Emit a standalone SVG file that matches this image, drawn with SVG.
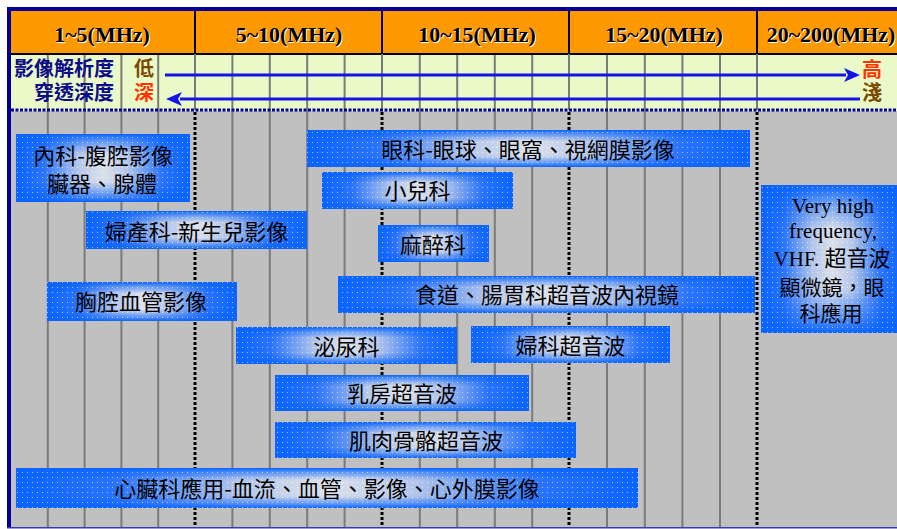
<svg xmlns="http://www.w3.org/2000/svg" width="897" height="529" viewBox="0 0 897 529">
<defs>
<style>
.hdr{font-family:"Liberation Serif","Times New Roman",serif;font-weight:bold;font-size:22px;text-anchor:middle;fill:#000}
.hdrs{font-family:"Liberation Serif","Times New Roman",serif;font-weight:bold;font-size:22px;text-anchor:middle;fill:#fff}
.lbl{font-family:"Noto Sans CJK TC","Noto Sans CJK SC",sans-serif;font-weight:bold;font-size:20px}
.bx{font-family:"Noto Sans CJK TC","Noto Sans CJK SC",sans-serif;font-size:22px;fill:#000;text-anchor:middle}
.vhf{font-family:"Liberation Serif","Noto Sans CJK TC",serif;font-size:21px;fill:#000;text-anchor:middle}
.minor{stroke:#7a7a7a;stroke-width:2}
.majorh{stroke:#000;stroke-width:2}
.majorg{stroke:#7a7a7a;stroke-width:2}
.major{stroke:#000;stroke-width:3;stroke-dasharray:3 2}
.bh{fill:url(#gh)}
.bv{fill:url(#gv)}
.bd{fill:url(#dots)}
.arrow{stroke:#1414E8;stroke-width:3;fill:none;marker-end:url(#ah)}
</style>
<linearGradient id="gh" x1="0" y1="0" x2="1" y2="0">
<stop offset="0" stop-color="#0A64FF"/>
<stop offset="0.16" stop-color="#2A74FA"/>
<stop offset="0.36" stop-color="#B4C6EA"/>
<stop offset="0.5" stop-color="#DCE1E9"/>
<stop offset="0.64" stop-color="#B4C6EA"/>
<stop offset="0.84" stop-color="#2A74FA"/>
<stop offset="1" stop-color="#0A64FF"/>
</linearGradient>
<linearGradient id="gv" x1="0" y1="0" x2="0" y2="1">
<stop offset="0" stop-color="#0A64FF" stop-opacity="1"/>
<stop offset="0.1" stop-color="#0A64FF" stop-opacity="0.6"/>
<stop offset="0.3" stop-color="#0A64FF" stop-opacity="0"/>
<stop offset="0.7" stop-color="#0A64FF" stop-opacity="0"/>
<stop offset="0.9" stop-color="#0A64FF" stop-opacity="0.6"/>
<stop offset="1" stop-color="#0A64FF" stop-opacity="1"/>
</linearGradient>
<pattern id="dots" width="5" height="5" patternUnits="userSpaceOnUse">
<rect x="2" y="2" width="1" height="1" fill="#fff" opacity="0.6"/>
</pattern>
<marker id="ah" viewBox="0 0 16 14" markerWidth="16" markerHeight="14" markerUnits="userSpaceOnUse" refX="2" refY="7" orient="auto">
<path d="M0,0 L16,7 L0,14 L4,7 Z" fill="#1414E8"/>
</marker>
</defs>

<!-- background -->
<rect x="0" y="0" width="897" height="529" fill="#fff"/>
<rect x="11" y="11" width="886" height="43" fill="#FF9900"/>
<rect x="11" y="54" width="886" height="56" fill="#EAF9C8"/>
<rect x="11" y="111" width="886" height="416" fill="#C0C0C0"/>

<!-- grid -->
<g id="grid">
<g class="minor">
<line x1="47.8" y1="54" x2="47.8" y2="527"/>
<line x1="84.6" y1="54" x2="84.6" y2="527"/>
<line x1="121.4" y1="54" x2="121.4" y2="527"/>
<line x1="158.2" y1="54" x2="158.2" y2="527"/>
<line x1="232.4" y1="54" x2="232.4" y2="527"/>
<line x1="269.8" y1="54" x2="269.8" y2="527"/>
<line x1="307.2" y1="54" x2="307.2" y2="527"/>
<line x1="344.6" y1="54" x2="344.6" y2="527"/>
<line x1="419.8" y1="54" x2="419.8" y2="527"/>
<line x1="457.2" y1="54" x2="457.2" y2="527"/>
<line x1="494.8" y1="54" x2="494.8" y2="527"/>
<line x1="532.2" y1="54" x2="532.2" y2="527"/>
<line x1="607" y1="54" x2="607" y2="527"/>
<line x1="644.8" y1="54" x2="644.8" y2="527"/>
<line x1="682.4" y1="54" x2="682.4" y2="527"/>
<line x1="720" y1="54" x2="720" y2="527"/>
</g>
<g class="majorh">
<line x1="195" y1="11" x2="195" y2="54"/>
<line x1="382" y1="11" x2="382" y2="54"/>
<line x1="569" y1="11" x2="569" y2="54"/>
<line x1="757" y1="11" x2="757" y2="54"/>
<line x1="11" y1="54" x2="897" y2="54"/>
</g>
<g class="majorg">
<line x1="195" y1="54" x2="195" y2="110"/>
<line x1="382" y1="54" x2="382" y2="110"/>
<line x1="569" y1="54" x2="569" y2="110"/>
<line x1="757" y1="54" x2="757" y2="110"/>
</g>
<g class="major">
<line x1="195" y1="112" x2="195" y2="527"/>
<line x1="382" y1="112" x2="382" y2="527"/>
<line x1="569" y1="112" x2="569" y2="527"/>
<line x1="757" y1="112" x2="757" y2="527"/>
</g>
<line x1="11" y1="110" x2="897" y2="110" stroke="#000099" stroke-width="3" stroke-dasharray="3 1.5"/>
</g>

<!-- borders -->
<rect x="7" y="7" width="890" height="4" fill="#000099"/>
<rect x="7" y="7" width="4" height="521" fill="#000099"/>
<rect x="7" y="527" width="890" height="1.5" fill="#3a3aa8"/>

<!-- header -->
<g id="header">
<text class="hdrs" x="103" y="43">1~5(MHz)</text>
<text class="hdr" x="102" y="42">1~5(MHz)</text>
<text class="hdrs" x="290" y="43">5~10(MHz)</text>
<text class="hdr" x="289" y="42">5~10(MHz)</text>
<text class="hdrs" x="478" y="43">10~15(MHz)</text>
<text class="hdr" x="477" y="42">10~15(MHz)</text>
<text class="hdrs" x="665" y="43">15~20(MHz)</text>
<text class="hdr" x="664" y="42">15~20(MHz)</text>
<text class="hdrs" x="832" y="43">20~200(MHz)</text>
<text class="hdr" x="831" y="42">20~200(MHz)</text>
</g>

<!-- scale labels -->
<g id="scale-labels">
<text class="lbl" x="114" y="76" text-anchor="end" fill="#0C0C8A">影像解析度</text>
<text class="lbl" x="114" y="100" text-anchor="end" fill="#0C0C8A">穿透深度</text>
<text class="lbl" x="134" y="76" fill="#7A4A00">低</text>
<text class="lbl" x="134" y="100" fill="#FF3300">深</text>
<text class="lbl" x="862" y="77" fill="#FF3300">高</text>
<text class="lbl" x="862" y="100" fill="#7A4A00">淺</text>
</g>

<!-- connectors -->
<g id="connectors">
<line class="arrow" x1="165" y1="75" x2="846" y2="75"/>
<line class="arrow" x1="860" y1="99" x2="180" y2="99"/>
</g>

<!-- nodes -->
<g id="n-naike">
<rect class="bh" x="16" y="134" width="174" height="68"/><rect class="bv" x="16" y="134" width="174" height="68"/><rect class="bd" x="16" y="134" width="174" height="68"/>
<text class="bx" x="103" y="163.5">內科-腹腔影像</text>
<text class="bx" x="102" y="192">臟器、腺體</text>
</g>
<g id="n-fuchan">
<rect class="bh" x="86" y="211" width="221" height="38"/><rect class="bv" x="86" y="211" width="221" height="38"/><rect class="bd" x="86" y="211" width="221" height="38"/>
<text class="bx" x="196.5" y="240">婦產科-新生兒影像</text>
</g>
<g id="n-xiongqiang">
<rect class="bh" x="47" y="282" width="190" height="39"/><rect class="bv" x="47" y="282" width="190" height="39"/><rect class="bd" x="47" y="282" width="190" height="39"/>
<text class="bx" x="141" y="310">胸腔血管影像</text>
</g>
<g id="n-yanke">
<rect class="bh" x="307" y="130" width="443" height="37"/><rect class="bv" x="307" y="130" width="443" height="37"/><rect class="bd" x="307" y="130" width="443" height="37"/>
<text class="bx" x="528" y="158">眼科-眼球、眼窩、視網膜影像</text>
</g>
<g id="n-xiaoer">
<rect class="bh" x="322" y="172" width="191" height="37"/><rect class="bv" x="322" y="172" width="191" height="37"/><rect class="bd" x="322" y="172" width="191" height="37"/>
<text class="bx" x="417.5" y="198.5">小兒科</text>
</g>
<g id="n-mazui">
<rect class="bh" x="378" y="225" width="111" height="37"/><rect class="bv" x="378" y="225" width="111" height="37"/><rect class="bd" x="378" y="225" width="111" height="37"/>
<text class="bx" x="433" y="253">麻醉科</text>
</g>
<g id="n-shidao">
<rect class="bh" x="338" y="276" width="417" height="37"/><rect class="bv" x="338" y="276" width="417" height="37"/><rect class="bd" x="338" y="276" width="417" height="37"/>
<text class="bx" x="547" y="303">食道、腸胃科超音波內視鏡</text>
</g>
<g id="n-miniao">
<rect class="bh" x="236" y="327" width="221" height="37"/><rect class="bv" x="236" y="327" width="221" height="37"/><rect class="bd" x="236" y="327" width="221" height="37"/>
<text class="bx" x="346.5" y="354.5">泌尿科</text>
</g>
<g id="n-fuke">
<rect class="bh" x="471" y="326" width="199" height="37"/><rect class="bv" x="471" y="326" width="199" height="37"/><rect class="bd" x="471" y="326" width="199" height="37"/>
<text class="bx" x="570.5" y="353.5">婦科超音波</text>
</g>
<g id="n-rufang">
<rect class="bh" x="275" y="375" width="254" height="36"/><rect class="bv" x="275" y="375" width="254" height="36"/><rect class="bd" x="275" y="375" width="254" height="36"/>
<text class="bx" x="402" y="402">乳房超音波</text>
</g>
<g id="n-jirou">
<rect class="bh" x="275" y="422" width="301" height="36"/><rect class="bv" x="275" y="422" width="301" height="36"/><rect class="bd" x="275" y="422" width="301" height="36"/>
<text class="bx" x="426" y="449">肌肉骨骼超音波</text>
</g>
<g id="n-xinzang">
<rect class="bh" x="16" y="468" width="622" height="40"/><rect class="bv" x="16" y="468" width="622" height="40"/><rect class="bd" x="16" y="468" width="622" height="40"/>
<text class="bx" x="327" y="496.5">心臟科應用-血流、血管、影像、心外膜影像</text>
</g>
<g id="n-vhf">
<rect class="bh" x="761" y="185" width="143" height="148"/><rect class="bv" x="761" y="185" width="143" height="148"/><rect class="bd" x="761" y="185" width="143" height="148"/>
<text class="vhf" x="833" y="213">Very high</text>
<text class="vhf" x="833" y="238">frequency,</text>
<text class="vhf" x="832" y="266">VHF. <tspan font-family="Noto Sans CJK TC, sans-serif" font-size="22">超音波</tspan></text>
<text class="vhf" x="832" y="295" font-family="Noto Sans CJK TC, sans-serif" font-size="22">顯微鏡，眼</text>
<text class="vhf" x="831" y="321" font-family="Noto Sans CJK TC, sans-serif" font-size="22">科應用</text>
</g>
</svg>
